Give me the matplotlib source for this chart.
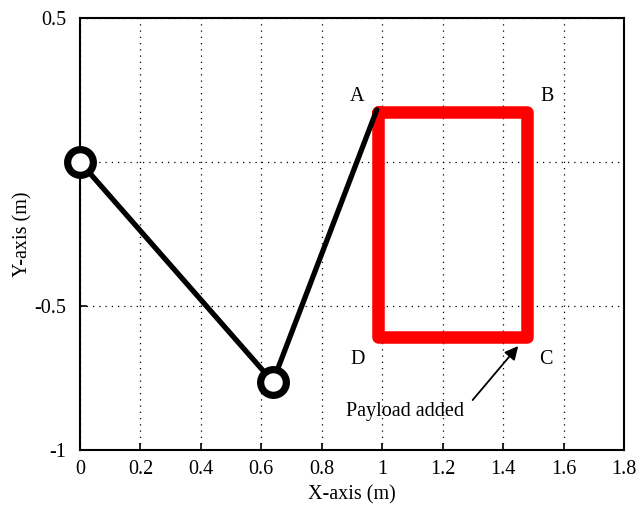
import matplotlib.pyplot as plt

# arm joints (m)
arm_x = [0.0, 0.638, 0.982]
arm_y = [0.0, -0.763, 0.181]

# payload rectangle corners A, B, C, D (m)
box_x = [0.985, 1.48, 1.48, 0.985, 0.985]
box_y = [0.173, 0.173, -0.607, -0.607, 0.173]

corner_names = ['A', 'B', 'C', 'D']
corner_x = [0.917, 1.545, 1.542, 0.917]
corner_y = [0.226, 0.226, -0.6875, -0.6875]

xticks = [0, 0.2, 0.4, 0.6, 0.8, 1, 1.2, 1.4, 1.6, 1.8]
xtick_labels = ['0', '0.2', '0.4', '0.6', '0.8', '1', '1.2', '1.4', '1.6', '1.8']
yticks = [0.5, 0, -0.5, -1]
ytick_labels = ['0.5', '', '-0.5', '-1']

plt.rcParams['font.family'] = ['Liberation Serif', 'DejaVu Serif']
fs = 14.5

fig = plt.figure(figsize=(6.41, 5.05), dpi=100)
ax = fig.add_axes([0.1248, 0.1089, 0.8487, 0.8555])

# grille pointillée
ax.grid(True, color='black', linestyle=(0, (1, 4)), linewidth=0.9)
ax.set_axisbelow(True)

# bras
ax.plot(arm_x, arm_y, color='black', linewidth=3.8, solid_capstyle='round', zorder=3)
ax.plot(arm_x[:2], arm_y[:2], 'o', color='black', markerfacecolor='white',
        markersize=18.5, markeredgewidth=5.2, zorder=4, clip_on=False)

# charge utile
ax.plot(box_x, box_y, color='#ff0000', linewidth=9, solid_joinstyle='round',
        solid_capstyle='round', zorder=2)

for name, cx, cy in zip(corner_names, corner_x, corner_y):
    ax.text(cx, cy, name, fontsize=fs, ha='center', va='center')

ax.annotate('Payload added', xy=(1.45, -0.639), xytext=(1.074, -0.867),
            fontsize=fs, ha='center', va='center',
            arrowprops=dict(arrowstyle='-|>', color='black', lw=1.3,
                            mutation_scale=20, shrinkA=7, shrinkB=0,
                            relpos=(1.0, 0.55)))

ax.set_xlim(0, 1.8)
ax.set_ylim(-1, 0.5)
ax.set_xticks(xticks)
ax.set_xticklabels(xtick_labels)
ax.set_yticks(yticks)
ax.set_yticklabels(ytick_labels)
ax.tick_params(direction='in', length=5, width=1.2, labelsize=fs, pad=7)
ax.tick_params(axis='y', pad=10)
for sp in ax.spines.values():
    sp.set_linewidth(1.5)

ax.set_xlabel('X-axis (m)', fontsize=fs, labelpad=5)
ax.set_ylabel('Y-axis (m)', fontsize=fs, labelpad=1)

plt.savefig('out.png', dpi=100, facecolor='white')
